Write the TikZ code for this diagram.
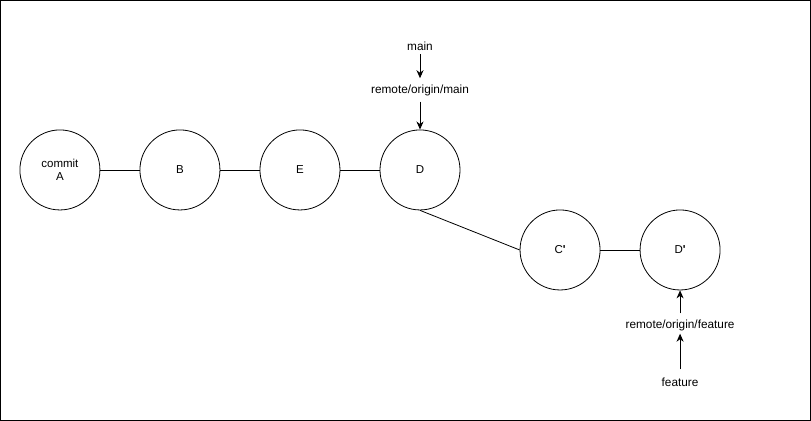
\documentclass[tikz,border=0pt]{standalone}
\usepackage{fontspec}
\setmainfont{Liberation Sans}
\usetikzlibrary{arrows.meta}
\begin{document}
\begin{tikzpicture}[x=1pt,y=-1pt,%
% common options for commits:
commit/.style = {circle, draw, line width=0.8pt, minimum size=80pt,
            inner sep=0, align=center, font=\fontsize{11.5}{13}\selectfont},
% common options for branch labels:
ref/.style = {inner sep=1pt, font=\fontsize{11.8}{13}\selectfont},
% common options for pointers:
ptr/.style = {-{Stealth[length=8pt,width=7pt,inset=2.5pt]}, line width=0.9pt}]
\draw[line width=0.8pt] (0.5,0.5) rectangle (810.5,420.5);
\node[commit] (A) at (60,170) {commit\\A};
\node[commit] (B) at (180,170) {B};
\node[commit] (E) at (300,170) {E};
\node[commit] (D) at (420,170) {D};
\node[commit] (C2) at (560,250) {C\textbf{\textquotesingle}};
\node[commit] (D2) at (680,250) {D\textbf{\textquotesingle}};
\node[ref] (main) at (420,46) {main};
\node[ref] (rmain) at (420,91) {remote/origin/main};
\node[ref] (rfeat) at (680,325) {remote/origin/feature};
\node[ref] (feat) at (680,382) {feature};
\draw[line width=0.8pt] (A) to (B);
\draw[line width=0.8pt] (B) to (E);
\draw[line width=0.8pt] (E) to (D);
\draw[line width=0.8pt] (D.south) to (C2.west);
\draw[line width=0.8pt] (C2) to (D2);
\draw[ptr, shorten <=3pt, shorten >=6pt] (main) to (rmain);
\draw[ptr] (rmain.south) ++(0,4) coordinate (t1) (t1) to (D.north);
\draw[ptr] (rfeat.north) ++(0,-5) coordinate (t2) (t2) to (D2.south);
\draw[ptr] (feat.north) ++(0,-7) coordinate (t3) (t3) to ([yshift=-2pt]rfeat.south);
\end{tikzpicture}
\end{document}
